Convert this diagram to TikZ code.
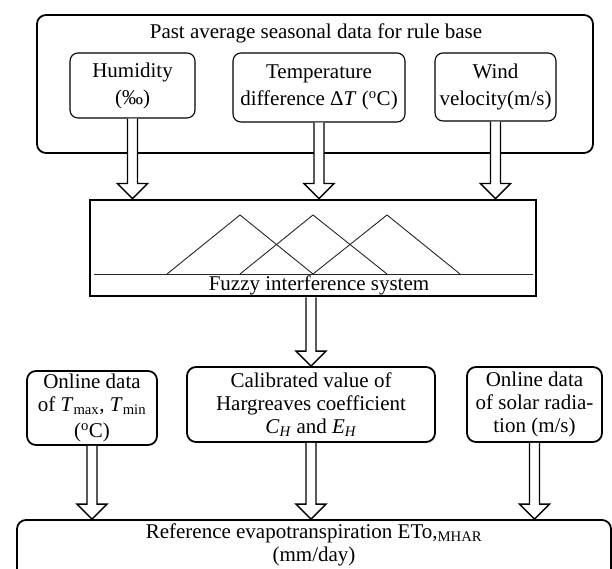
\documentclass[tikz,border=0pt]{standalone}
\usepackage{fontspec}
\setmainfont{Liberation Serif}
\usetikzlibrary{calc}
\tikzset{
  txt/.style={font=\fontsize{21}{27}\selectfont, align=center, inner sep=0pt},
  txtb/.style={font=\fontsize{21}{23}\selectfont, align=center, inner sep=0pt},
  outerbox/.style={draw, rounded corners=9pt, line width=1.8pt},
  inbox/.style={draw, rounded corners=8pt, line width=1.1pt, txt},
  fzbox/.style={draw, line width=2.8pt, inner sep=0pt},
  lowbox/.style={draw, rounded corners=9pt, line width=1.8pt, txtb},
  barrow/.style={draw, fill=white, line width=1.3pt, line join=miter},
  mf/.style={draw=black!85, line width=0.9pt},
}
\newcommand\blockarr[2]{%
  \draw[barrow] let \p1=#1, \p2=#2 in
    (\x1-5pt,\y1) -- (\x1-5pt,\y2+15pt) -- (\x1-15pt,\y2+15pt) -- (\x1,\y2)
    -- (\x1+15pt,\y2+15pt) -- (\x1+5pt,\y2+15pt) -- (\x1+5pt,\y1);}
\begin{document}
\begin{tikzpicture}[x=1pt,y=-1pt]
\clip (0,0) rectangle (612,569);
\fill[white] (0,0) rectangle (612,569);
% top group
\node[outerbox, minimum width=556pt, minimum height=138pt] (outer) at (315,84) {};
\node[txt] (title) at (316,33) {Past average seasonal data for rule base};
\node[inbox, minimum width=125pt, minimum height=65pt] (hum) at (132.5,85.5) {Humidity\\(‰)};
\node[inbox, minimum width=172pt, minimum height=69pt] (tmp) at (319,87.5) {Temperature\\difference Δ\textit{T} (\textsuperscript{o}C)};
\node[inbox, minimum width=121pt, minimum height=68pt] (wnd) at (495.5,87) {Wind\\velocity(m/s)};
% fuzzy
\node[fzbox, minimum width=446pt, minimum height=96pt] (fz) at (313,248) {};
\draw[mf] (94,274) -- (533,274);
\draw[mf] (167,274) -- (240,215) -- (313,274);
\draw[mf] (240,274) -- (313,215) -- (387,274);
\draw[mf] (313,274) -- (387,215) -- (460,274);
\node[txt] (fztxt) at (319,285) {Fuzzy interference system};
% bottom row
\node[lowbox, minimum width=130pt, minimum height=74pt] (onl) at (92,408) {Online data\\of \textit{T}\textsubscript{max}, \textit{T}\textsubscript{min}\\[3pt](\textsuperscript{o}C)};
\node[lowbox, minimum width=248pt, minimum height=75pt] (cal) at (311,404.5) {Calibrated value of\\Hargreaves coefficient\\\textit{C}\textsubscript{\textit{H}} and \textit{E}\textsubscript{\textit{H}}};
\node[lowbox, minimum width=135pt, minimum height=75pt] (sol) at (534.5,404.5) {Online data\\of solar radia-\\tion (m/s)};
\node[lowbox, minimum width=594pt, minimum height=80pt] (ref) at (314,560) {};
\node[txtb] (reftxt) at (314,544.5) {Reference evapotranspiration ETo,\textsubscript{MHAR}\\(mm/day)};
% arrows
\blockarr{(hum.south)}{(hum.south |- fz.north)}
\blockarr{(tmp.south)}{(tmp.south |- fz.north)}
\blockarr{(wnd.south)}{(wnd.south |- fz.north)}
\blockarr{(cal.north |- fz.south)}{(cal.north)}
\blockarr{(onl.south)}{(onl.south |- ref.north)}
\blockarr{(cal.south)}{(cal.south |- ref.north)}
\blockarr{(sol.south)}{(sol.south |- ref.north)}
\end{tikzpicture}
\end{document}
